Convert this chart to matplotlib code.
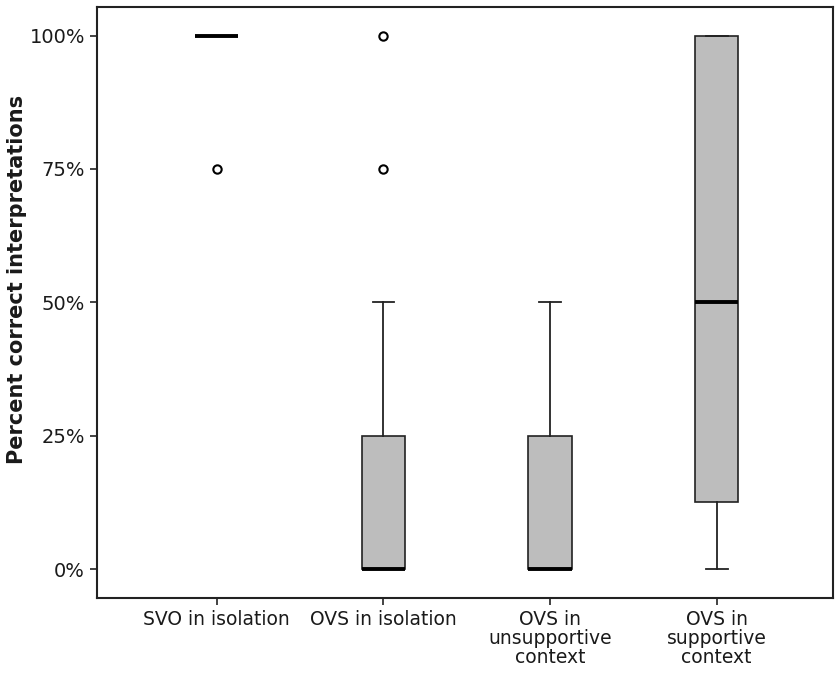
import matplotlib
matplotlib.use("Agg")
import matplotlib.pyplot as plt
from matplotlib.ticker import FuncFormatter

# data (percent correct)
conditions = ["SVO in isolation", "OVS in isolation",
              "OVS in\nunsupportive\ncontext", "OVS in\nsupportive\ncontext"]
q1 = [100, 0, 0, 12.5]
medians = [100, 0, 0, 50]
q3 = [100, 25, 25, 100]
whislo = [100, 0, 0, 0]
whishi = [100, 50, 50, 100]
outliers = [[75], [75, 100], [], []]
yticks = [0, 25, 50, 75, 100]

stats = []
for i in range(len(conditions)):
    stats.append({
        "label": conditions[i],
        "q1": q1[i], "med": medians[i], "q3": q3[i],
        "whislo": whislo[i], "whishi": whishi[i],
        "fliers": outliers[i],
    })

plt.rcParams["font.family"] = ["DejaVu Sans"]

fig = plt.figure(figsize=(8.35, 6.74), dpi=100)
ax = fig.add_axes([0.116, 0.113, 0.882, 0.877])

ax.bxp(stats, positions=[1, 2, 3, 4], widths=0.26, patch_artist=True,
       boxprops=dict(facecolor="#bdbdbd", edgecolor="#222222", linewidth=1.2),
       medianprops=dict(color="black", linewidth=2.8),
       whiskerprops=dict(color="#222222", linewidth=1.3),
       capprops=dict(color="#222222", linewidth=1.3),
       capwidths=0.13,
       flierprops=dict(marker="o", markersize=6, markerfacecolor="white",
                       markeredgecolor="black", markeredgewidth=1.5))

ax.set_xlim(0.28, 4.70)
ax.set_ylim(-5.4, 105.4)
ax.set_yticks(yticks)
ax.yaxis.set_major_formatter(FuncFormatter(lambda v, p: "%d%%" % v))
ax.tick_params(axis="y", labelsize=14, length=5, width=1.2, color="#222222",
               labelcolor="#1a1a1a")
ax.tick_params(axis="x", labelsize=13.5, length=5, width=1.2, color="#222222",
               labelcolor="#1a1a1a")
for lab in ax.get_xticklabels():
    lab.set_linespacing(1.0)
ax.set_ylabel("Percent correct interpretations", fontsize=15,
              fontweight="bold", color="#1a1a1a")
ax.yaxis.label.set_va("center")
ax.yaxis.set_label_coords(-0.108, 0.538)

for s in ax.spines.values():
    s.set_linewidth(1.5)
    s.set_color("#222222")

fig.savefig("out.png", dpi=100)
